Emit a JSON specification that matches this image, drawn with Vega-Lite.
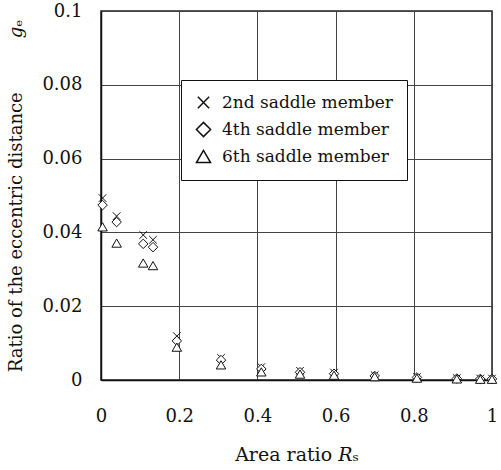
{
  "$schema": "https://vega.github.io/schema/vega-lite/v6.json",
  "width": 391,
  "height": 369,
  "autosize": {"type": "none"},
  "padding": {"left": 101, "top": 11, "right": 10, "bottom": 90},
  "background": "white",
  "config": {
    "view": {"stroke": "#222", "strokeWidth": 1.5},
    "font": "DejaVu Serif",
    "axis": {
      "tickSize": 0,
      "labelFlush": false,
      "domainColor": "#111",
      "domainWidth": 1.5,
      "gridColor": "#444",
      "gridWidth": 1,
      "gridOpacity": 1
    }
  },
  "data": {
    "values": [
      {"r": 0.004, "g": 0.0493, "s": "2nd saddle member"},
      {"r": 0.04, "g": 0.0444, "s": "2nd saddle member"},
      {"r": 0.108, "g": 0.0393, "s": "2nd saddle member"},
      {"r": 0.133, "g": 0.038, "s": "2nd saddle member"},
      {"r": 0.194, "g": 0.0119, "s": "2nd saddle member"},
      {"r": 0.307, "g": 0.006, "s": "2nd saddle member"},
      {"r": 0.41, "g": 0.0035, "s": "2nd saddle member"},
      {"r": 0.509, "g": 0.0025, "s": "2nd saddle member"},
      {"r": 0.596, "g": 0.002, "s": "2nd saddle member"},
      {"r": 0.7, "g": 0.0013, "s": "2nd saddle member"},
      {"r": 0.808, "g": 0.0008, "s": "2nd saddle member"},
      {"r": 0.91, "g": 0.0005, "s": "2nd saddle member"},
      {"r": 0.97, "g": 0.0004, "s": "2nd saddle member"},
      {"r": 1.0, "g": 0.0004, "s": "2nd saddle member"},
      {"r": 0.004, "g": 0.0474, "s": "4th saddle member"},
      {"r": 0.04, "g": 0.0428, "s": "4th saddle member"},
      {"r": 0.108, "g": 0.0369, "s": "4th saddle member"},
      {"r": 0.133, "g": 0.036, "s": "4th saddle member"},
      {"r": 0.194, "g": 0.0106, "s": "4th saddle member"},
      {"r": 0.307, "g": 0.0054, "s": "4th saddle member"},
      {"r": 0.41, "g": 0.003, "s": "4th saddle member"},
      {"r": 0.509, "g": 0.0021, "s": "4th saddle member"},
      {"r": 0.596, "g": 0.0017, "s": "4th saddle member"},
      {"r": 0.7, "g": 0.0011, "s": "4th saddle member"},
      {"r": 0.808, "g": 0.0007, "s": "4th saddle member"},
      {"r": 0.91, "g": 0.0004, "s": "4th saddle member"},
      {"r": 0.97, "g": 0.0003, "s": "4th saddle member"},
      {"r": 1.0, "g": 0.0003, "s": "4th saddle member"},
      {"r": 0.004, "g": 0.0415, "s": "6th saddle member"},
      {"r": 0.04, "g": 0.0371, "s": "6th saddle member"},
      {"r": 0.108, "g": 0.0317, "s": "6th saddle member"},
      {"r": 0.133, "g": 0.031, "s": "6th saddle member"},
      {"r": 0.194, "g": 0.0089, "s": "6th saddle member"},
      {"r": 0.307, "g": 0.0041, "s": "6th saddle member"},
      {"r": 0.41, "g": 0.0022, "s": "6th saddle member"},
      {"r": 0.509, "g": 0.0016, "s": "6th saddle member"},
      {"r": 0.596, "g": 0.0013, "s": "6th saddle member"},
      {"r": 0.7, "g": 0.0009, "s": "6th saddle member"},
      {"r": 0.808, "g": 0.0005, "s": "6th saddle member"},
      {"r": 0.91, "g": 0.0003, "s": "6th saddle member"},
      {"r": 0.97, "g": 0.0002, "s": "6th saddle member"},
      {"r": 1.0, "g": 0.0002, "s": "6th saddle member"}
    ]
  },
  "mark": {"type": "point", "filled": true, "color": "white", "stroke": "#111", "strokeWidth": 1, "size": 90, "opacity": 1},
  "encoding": {
    "x": {
      "field": "r", "type": "quantitative",
      "scale": {"domain": [0, 1], "nice": false, "zero": false},
      "axis": {"values": [0, 0.2, 0.4, 0.6, 0.8, 1], "format": ".1~f", "labelFlush": false, "labelPadding": 27, "titlePadding": 20, "title": "Area ratio 𝑅ₛ", "grid": true,
        "labelFont": "DejaVu Serif", "titleFont": "DejaVu Serif", "labelFontSize": 18, "titleFontSize": 19, "titleFontWeight": "normal", "labelColor": "#111", "titleColor": "#111"}
    },
    "y": {
      "field": "g", "type": "quantitative",
      "scale": {"domain": [0, 0.1], "nice": false},
      "axis": {"values": [0, 0.02, 0.04, 0.06, 0.08, 0.1], "format": ".2~f", "labelFlush": false, "labelPadding": 19, "titlePadding": 16, "title": "Ratio of the eccentric distance\u2003\u2003\u2003𝑔ₑ", "grid": true,
        "labelFont": "DejaVu Serif", "titleFont": "DejaVu Serif", "labelFontSize": 18, "titleFontSize": 18, "titleFontWeight": "normal", "labelColor": "#111", "titleColor": "#111"}
    },
    "shape": {
      "field": "s", "type": "nominal",
      "scale": {"domain": ["2nd saddle member", "4th saddle member", "6th saddle member"], "range": ["M-0.8,-0.8L0.8,0.8M-0.8,0.8L0.8,-0.8", "diamond", "triangle-up"]},
      "legend": {
        "title": null,
        "orient": "none",
        "legendX": 80,
        "legendY": 69,
        "strokeColor": "#111",
        "fillColor": "white",
        "padding": 14,
        "labelFont": "DejaVu Serif",
        "labelFontSize": 17,
        "labelColor": "#111",
        "labelLimit": 300,
        "labelOffset": 10,
        "symbolSize": 200,
        "rowPadding": 7,
        "encode": {
          "symbols": {
            "update": {
              "stroke": {"value": "#111"},
              "fill": {"value": "white"},
              "strokeWidth": {"value": 1},
              "opacity": {"value": 1},
              "fillOpacity": {"value": 1},
              "strokeOpacity": {"value": 1}
            }
          }
        }
      }
    }
  }
}
